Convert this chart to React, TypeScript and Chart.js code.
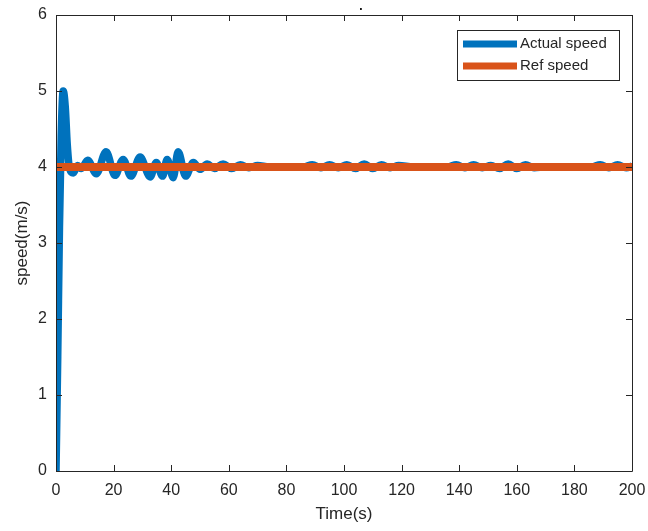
import React, { useEffect, useRef } from "react";
import { Chart, registerables } from "chart.js";

Chart.register(...registerables);

const timeActual = [0, 0.6, 1.2, 1.8, 2.5, 3.2, 3.9, 4.7, 6, 7.5, 8.8, 11, 14, 17.4, 20.5, 23.3, 26, 29.2, 32.7, 34.8, 37, 38.6, 40.7, 42.4, 45, 47.7, 50, 52.5, 55, 58, 61, 64, 67, 70, 74, 80, 86, 89, 92, 95, 98, 101, 104, 107, 110, 113, 116, 119, 124, 130, 136, 139, 142, 145, 148, 151, 154, 157, 160, 163, 166, 170, 180, 186, 189, 192, 195, 198, 200];
const speedActual = [0, 1.5, 3.2, 4.4, 5.0, 4.8, 4.3, 3.98, 3.92, 4.02, 3.98, 4.09, 3.91, 4.2, 3.89, 4.1, 3.88, 4.13, 3.87, 4.06, 3.88, 4.1, 3.86, 4.2, 3.88, 4.06, 3.97, 4.04, 3.98, 4.04, 3.98, 4.03, 3.99, 4.02, 4.0, 4.0, 4.0, 4.03, 3.99, 4.03, 3.99, 4.03, 3.98, 4.04, 3.98, 4.03, 3.99, 4.02, 4.0, 4.0, 4.0, 4.03, 3.99, 4.03, 3.99, 4.02, 3.98, 4.04, 3.98, 4.03, 3.99, 4.0, 4.0, 4.0, 4.03, 3.99, 4.03, 3.99, 4.01];
const timeRef = [0, 200];
const speedRef = [4, 4];
const xTicks = [0, 20, 40, 60, 80, 100, 120, 140, 160, 180, 200];
const yTicks = [0, 1, 2, 3, 4, 5, 6];
const seriesLabels = ["Actual speed", "Ref speed"];
const seriesColors = ["#0072BD", "#D95319"];
const titleText = ".";
const xTitle = "Time(s)";
const yTitle = "speed(m/s)";

const FONT = "'Liberation Sans', Arial, sans-serif";
const TEXT = "#262626";

const framePlugin = {
  id: "matlabFrame",
  afterDatasetsDraw(chart: any) {
    const { ctx, chartArea: a, scales } = chart;
    const xs = scales.x, ys = scales.y;
    ctx.save();
    ctx.strokeStyle = TEXT;
    ctx.lineWidth = 1;
    ctx.beginPath();
    ctx.rect(Math.round(a.left) + 0.5, Math.round(a.top) + 0.5, Math.round(a.right - a.left), Math.round(a.bottom - a.top));
    ctx.stroke();
    const tl = 6;
    ctx.beginPath();
    xTicks.forEach((v) => {
      const px = Math.round(xs.getPixelForValue(v)) + 0.5;
      ctx.moveTo(px, a.bottom); ctx.lineTo(px, a.bottom - tl);
      ctx.moveTo(px, a.top); ctx.lineTo(px, a.top + tl);
    });
    yTicks.forEach((v) => {
      const py = Math.round(ys.getPixelForValue(v)) + 0.5;
      ctx.moveTo(a.left, py); ctx.lineTo(a.left + tl, py);
      ctx.moveTo(a.right, py); ctx.lineTo(a.right - tl, py);
    });
    ctx.stroke();

    // legend
    const lx = 457, ly = 30, lw = 162, lh = 50;
    ctx.fillStyle = "#ffffff";
    ctx.fillRect(lx, ly, lw, lh);
    ctx.strokeStyle = TEXT;
    ctx.strokeRect(lx + 0.5, ly + 0.5, lw, lh);
    ctx.font = `15px ${FONT}`;
    ctx.textBaseline = "middle";
    ctx.textAlign = "left";
    seriesLabels.forEach((lab, i) => {
      const yy = ly + 14 + i * 22;
      ctx.strokeStyle = seriesColors[i];
      ctx.lineWidth = 7;
      ctx.beginPath();
      ctx.moveTo(lx + 6, yy);
      ctx.lineTo(lx + 60, yy);
      ctx.stroke();
      ctx.fillStyle = TEXT;
      ctx.fillText(lab, lx + 63, yy);
    });

    // title
    ctx.fillStyle = "#000";
    ctx.font = `bold 12px ${FONT}`;
    ctx.textAlign = "center";
    ctx.textBaseline = "alphabetic";
    ctx.fillText(titleText, 361, 10);
    ctx.restore();
  },
};

export default function App() {
  const ref = useRef<HTMLCanvasElement | null>(null);
  useEffect(() => {
    document.body.style.margin = "0";
    const chart = new Chart(ref.current as HTMLCanvasElement, {
      type: "line",
      data: {
        datasets: [
          {
            label: seriesLabels[0],
            data: timeActual.map((t, i) => ({ x: t, y: speedActual[i] })),
            borderColor: seriesColors[0],
            backgroundColor: seriesColors[0],
            borderWidth: 7.5,
            pointRadius: 0,
            cubicInterpolationMode: "monotone",
            order: 2,
          },
          {
            label: seriesLabels[1],
            data: timeRef.map((t, i) => ({ x: t, y: speedRef[i] })),
            borderColor: seriesColors[1],
            backgroundColor: seriesColors[1],
            borderWidth: 8,
            pointRadius: 0,
            order: 1,
          },
        ],
      },
      options: {
        animation: false,
        responsive: false,
        maintainAspectRatio: false,
        layout: { padding: { top: 15, right: 16, left: 0, bottom: 0 } },
        plugins: { legend: { display: false }, tooltip: { enabled: false }, title: { display: false } },
        scales: {
          x: {
            type: "linear",
            min: 0,
            max: 200,
            afterBuildTicks: (s: any) => { s.ticks = xTicks.map((v) => ({ value: v })); },
            afterFit: (s: any) => { s.height = 60; },
            grid: { display: false },
            border: { display: false },
            ticks: { color: TEXT, font: { family: FONT, size: 16 }, padding: 2, maxRotation: 0 },
            title: { display: true, text: xTitle, color: TEXT, font: { family: FONT, size: 17 }, padding: { top: 2, bottom: 6 } },
          },
          y: {
            type: "linear",
            min: 0,
            max: 6,
            afterBuildTicks: (s: any) => { s.ticks = yTicks.map((v) => ({ value: v })); },
            afterFit: (s: any) => { s.width = 56; },
            grid: { display: false },
            border: { display: false },
            ticks: { color: TEXT, font: { family: FONT, size: 16 }, padding: 1 },
            title: { display: true, text: yTitle, color: TEXT, font: { family: FONT, size: 17 }, padding: { top: 12, bottom: 4 } },
          },
        },
      },
      plugins: [framePlugin],
    } as any);
    return () => chart.destroy();
  }, []);
  return (
    <div style={{ position: "absolute", left: 0, top: 0, width: 648, height: 531, background: "#fff" }}>
      <canvas ref={ref} width={648} height={531} style={{ width: 648, height: 531 }} />
    </div>
  );
}
